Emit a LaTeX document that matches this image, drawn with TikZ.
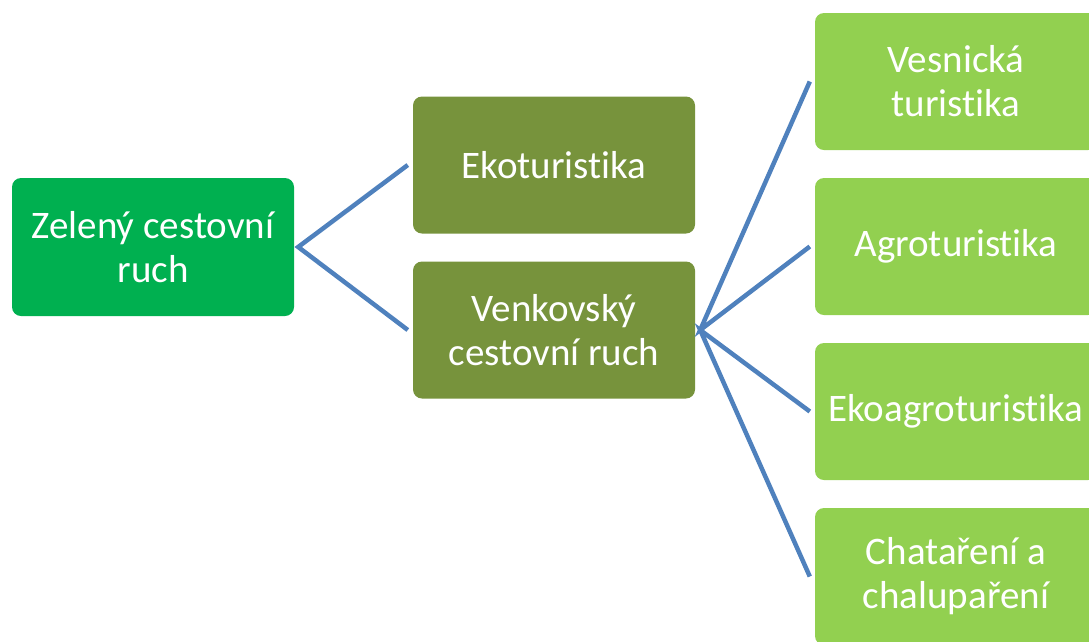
\documentclass[tikz,border=0pt]{standalone}
\usepackage{fontspec}
\setmainfont[Ligatures=NoCommon]{Carlito}
\definecolor{rootg}{HTML}{00B050}
\definecolor{midg}{HTML}{77933C}
\definecolor{leafg}{HTML}{92D050}
\definecolor{conn}{HTML}{4F81BD}
\begin{document}
\begin{tikzpicture}[x=1pt,y=-1pt,
  box/.style={rectangle, rounded corners=9pt, minimum width=282pt, minimum height=137pt,
    text=white, align=center, inner sep=0pt, font=\fontsize{39}{44}\selectfont},
  rootbox/.style={box, fill=rootg, minimum height=138pt},
  midbox/.style={box, fill=midg},
  leafbox/.style={box, fill=leafg},
  link/.style={draw=conn, line width=4.5pt}]
\useasboundingbox (0,0) rectangle (1089,641);
\clip (0,0) rectangle (1089,641);
\node[rootbox] (root) at (153,247) {Zelený cestovní\\ruch};
\node[midbox] (eko) at (554,165) {Ekoturistika};
\node[midbox] (ven) at (554,330) {Venkovský\\cestovní ruch};
\node[leafbox] (l1) at (956,81.5) {Vesnická\\turistika};
\node[leafbox] (l2) at (956,246.5) {Agroturistika};
\node[leafbox] (l3) at (956,411.5) {Ekoagroturistika};
\node[leafbox] (l4) at (956,576.5) {Chataření a\\chalupaření};
\coordinate (r0) at ([xshift=4pt]root.east);
\coordinate (v0) at ([xshift=5pt]ven.east);
\draw[link] ([xshift=-5pt]eko.west) -- (r0) -- ([xshift=-5pt]ven.west);
\draw[link] ([xshift=-5pt]l1.west) -- (v0) -- ([xshift=-5pt]l2.west);
\draw[link] ([xshift=-5pt]l3.west) -- (v0) -- ([xshift=-5pt]l4.west);
\end{tikzpicture}
\end{document}
